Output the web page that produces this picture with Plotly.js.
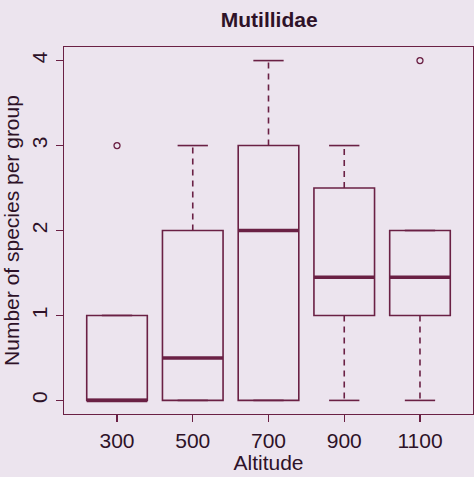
<!DOCTYPE html>
<html>
<head>
<meta charset="utf-8">
<script src="https://cdn.plot.ly/plotly-3.0.1.min.js"></script>
<style>html,body{margin:0;padding:0;background:#ece4ee;}</style>
</head>
<body>
<div id="chart" style="width:474px;height:477px;"></div>
<script>
// Data
const categories = ["300", "500", "700", "900", "1100"];
const lowerWhisker = [0, 0, 0, 0, 0];
const q1 = [0, 0, 0, 1, 1];
const medians = [0, 0.5, 2, 1.45, 1.45];
const q3 = [1, 2, 3, 2.5, 2];
const upperWhisker = [1, 3, 4, 3, 2];
const outlierGroup = ["300", "1100"];
const outlierValue = [3, 4];

const lineColor = "#6a2044";
const textColor = "#2e1228";
const bg = "#ece4ee";
const pos = categories.map((c, i) => i + 1);
const boxW = 0.8, capHalf = 0.2, medHalf = 0.4;

const wx = [], wy = [];
const cx = [], cy = [];
const mx = [], my = [];
pos.forEach((p, i) => {
  if (upperWhisker[i] > q3[i]) { wx.push(p, p, null); wy.push(q3[i], upperWhisker[i], null); }
  if (lowerWhisker[i] < q1[i]) { wx.push(p, p, null); wy.push(q1[i], lowerWhisker[i], null); }
  cx.push(p - capHalf, p + capHalf, null); cy.push(upperWhisker[i], upperWhisker[i], null);
  cx.push(p - capHalf, p + capHalf, null); cy.push(lowerWhisker[i], lowerWhisker[i], null);
  mx.push(p - medHalf, p + medHalf, null); my.push(medians[i], medians[i], null);
});

const traces = [
  {
    type: "box", x: pos, q1: q1, median: medians, q3: q3,
    lowerfence: q1, upperfence: q3, width: boxW, whiskerwidth: 0,
    fillcolor: "rgba(0,0,0,0)", line: {color: lineColor, width: 1.6},
    hoverinfo: "skip", showlegend: false
  },
  { type: "scatter", mode: "lines", x: wx, y: wy, line: {color: lineColor, width: 1.6, dash: "6px,5px"}, showlegend: false, hoverinfo: "skip" },
  { type: "scatter", mode: "lines", x: cx, y: cy, line: {color: lineColor, width: 1.6}, showlegend: false, hoverinfo: "skip" },
  { type: "scatter", mode: "lines", x: mx, y: my, line: {color: lineColor, width: 3.5}, showlegend: false, hoverinfo: "skip" },
  { type: "scatter", mode: "markers", x: outlierGroup.map(g => categories.indexOf(g) + 1), y: outlierValue,
    marker: {symbol: "circle-open", size: 6, color: lineColor, line: {width: 1.3, color: lineColor}}, showlegend: false, hoverinfo: "skip" }
];

const layout = {
  width: 474, height: 477,
  margin: {l: 64, r: 1, t: 47, b: 63},
  paper_bgcolor: bg, plot_bgcolor: bg,
  font: {family: "Liberation Sans, Arial, sans-serif", color: textColor, size: 21},
  title: {text: "<b>Mutillidae</b>", x: 0.568, xanchor: "center", y: 0.958, yanchor: "middle", font: {size: 21, color: textColor}},
  showlegend: false,
  xaxis: {
    range: [0.3, 5.7], tickvals: pos, ticktext: categories,
    showgrid: false, zeroline: false, showline: true, mirror: true, linecolor: lineColor, linewidth: 1.3,
    ticks: "outside", ticklen: 7, tickcolor: lineColor, tickwidth: 1.2,
    tickfont: {size: 21, color: textColor},
    title: {text: "Altitude", font: {size: 21, color: textColor}, standoff: 2}
  },
  yaxis: {
    range: [-0.16, 4.16], tickvals: [0, 1, 2, 3, 4], tickangle: -90,
    showgrid: false, zeroline: false, showline: true, mirror: true, linecolor: lineColor, linewidth: 1.3,
    ticks: "outside", ticklen: 7, tickcolor: lineColor, tickwidth: 1.2,
    tickfont: {size: 21, color: textColor},
    title: {text: "Number of species per group", font: {size: 21, color: textColor}, standoff: 6}
  }
};

Plotly.newPlot("chart", traces, layout, {displayModeBar: false, staticPlot: true});
</script>
</body>
</html>
